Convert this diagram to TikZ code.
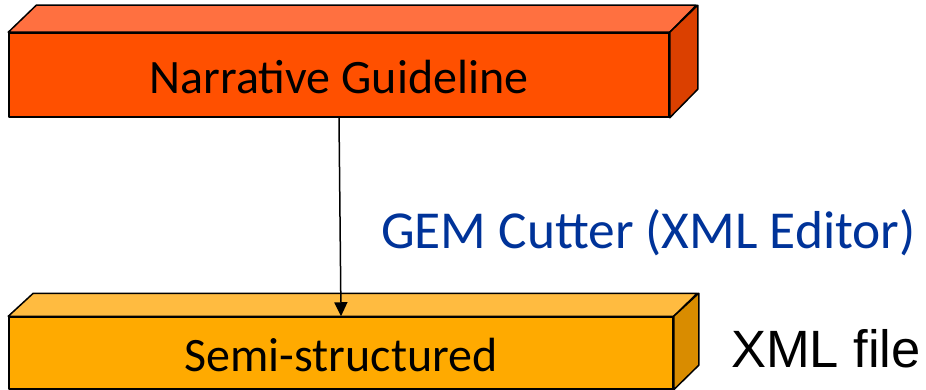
\documentclass[tikz,border=0pt]{standalone}
\usepackage{fontspec}
\setmainfont{Carlito}
\newfontfamily\arialfont{Liberation Sans}
\usetikzlibrary{arrows.meta}
\definecolor{ngfront}{RGB}{255,80,0}
\definecolor{ngtop}{RGB}{255,112,64}
\definecolor{ngside}{RGB}{219,64,0}
\definecolor{ssfront}{RGB}{255,170,0}
\definecolor{sstop}{RGB}{255,187,64}
\definecolor{ssside}{RGB}{217,140,0}
\definecolor{labelblue}{RGB}{0,51,153}
\tikzset{
  face/.style={draw=black, line width=1.5pt, line join=round},
  frontbox/.style={face, rectangle, inner sep=0pt, text=black, font=\fontsize{48}{56}\selectfont, text depth=0pt},
  conn/.style={draw=black, line width=1.5pt, -{Triangle[width=13pt,length=14pt]}},
}
\begin{document}
\begin{tikzpicture}[x=1pt,y=-1pt]
\useasboundingbox (0,0) rectangle (926,390);
% top box
\node[frontbox, fill=ngfront, minimum width=660pt, minimum height=84pt, text height=38pt] (ng) at (339,75) {Narrative Guideline};
\draw[face, fill=ngtop] (ng.north west) -- ++(28,-27) -- ++(660,0) -- (ng.north east) -- cycle;
\draw[face, fill=ngside] (ng.north east) -- ++(28,-27) -- ++(0,84) -- (ng.south east) -- cycle;
% bottom box
\node[frontbox, fill=ssfront, minimum width=664pt, minimum height=72pt, text height=36pt] (ss) at (341,353) {Semi-structured};
\draw[face, fill=sstop] (ss.north west) -- ++(25,-23) -- ++(664,0) -- (ss.north east) -- cycle;
\draw[face, fill=ssside] (ss.north east) -- ++(25,-23) -- ++(0,72) -- (ss.south east) -- cycle;
% connector
\draw[conn] (ng.south) -- (ss.north);
% labels
\node[anchor=base west, inner sep=0pt, text=labelblue, font=\fontsize{53.4}{60}\selectfont] (gem) at (381,248) {GEM Cutter (XML Editor)};
\node[anchor=base west, inner sep=0pt, text=black, font=\arialfont\fontsize{52.5}{60}\selectfont] (xml) at (731,367) {XML file};
\end{tikzpicture}
\end{document}
